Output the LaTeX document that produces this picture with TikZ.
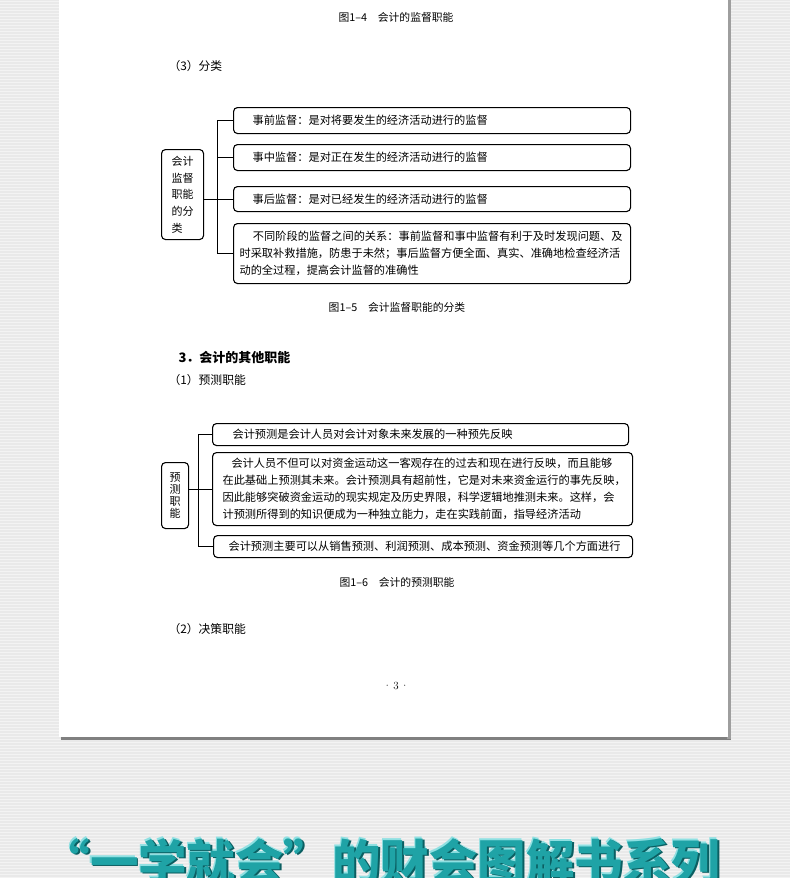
\documentclass[tikz,border=0pt]{standalone}
\usepackage{fontspec}
\newfontfamily\cjk{Noto Sans CJK SC}
\definecolor{bggray}{HTML}{E9E9E9}
\definecolor{bgline}{HTML}{F3F3F3}
\definecolor{teal1}{HTML}{1FA3A6}
\definecolor{teal2}{HTML}{0B5F62}
\definecolor{teal3}{HTML}{8FE0E2}
\tikzset{
  box/.style={draw, line width=1.1pt, rounded corners=4pt, inner ysep=0pt,
    anchor=north west, align=left, font=\cjk\fontsize{11.2}{17}\selectfont},
  sidebox/.style={draw, line width=1.1pt, rounded corners=4pt, inner ysep=0pt,
    anchor=north west, align=left},
  link/.style={line width=1pt},
  figcap/.style={font=\cjk\fontsize{10.8}{12}\selectfont},
  para/.style={anchor=west, font=\cjk\fontsize{11.8}{12}\selectfont},
  stripe/.style={bgline, line width=1pt},
  titletext/.style={anchor=base, font=\cjk\bfseries\fontsize{48.5}{48}\selectfont}
}
\begin{document}
\begin{tikzpicture}[x=1pt,y=-1pt]
\useasboundingbox (0,0) rectangle (790,878);
\clip (0,0) rectangle (790,878);
% background
\fill[bggray] (0,0) rectangle (790,878);
\foreach \yy in {1,4,...,878} \draw[stripe] (0,\yy) -- (790,\yy);
% page
\fill[black!50] (61,736) rectangle (731,739.5);
\fill[black!38] (727,-2) rectangle (731,739);
\fill[white] (59,-2) rectangle (728,737);

% captions and paragraph heads
\node[figcap] (c4) at (396,17) {图1–4\quad 会计的监督职能};
\node[para] (h3) at (165,66) {（3）分类};

% diagram 1
\node[sidebox, minimum width=42, minimum height=90, text width=22, inner xsep=10,
  font=\cjk\fontsize{11}{16.7}\selectfont] (L1) at (161,149) {会计\\监督\\职能\\的分\\类};
\node[box, minimum width=397, minimum height=26, text width=359, inner xsep=19] (a1) at (233,107)
  {事前监督：是对将要发生的经济活动进行的监督};
\node[box, minimum width=397, minimum height=26, text width=359, inner xsep=19] (a2) at (233,144)
  {事中监督：是对正在发生的经济活动进行的监督};
\node[box, minimum width=397, minimum height=25, text width=359, inner xsep=19] (a3) at (233,186)
  {事后监督：是对已经发生的经济活动进行的监督};
\node[box, minimum width=397, minimum height=60, text width=385, inner xsep=6] (a4) at (233,223)
  {\hspace*{1.2em}不同阶段的监督之间的关系：事前监督和事中监督有利于及时发现问题、及\\
   时采取补救措施，防患于未然；事后监督方便全面、真实、准确地检查经济活\\
   动的全过程，提高会计监督的准确性};
\draw[link] (a1.west) -- ++(-16,0) |- (a4.west);
\draw[link] (a2.west) -- ++(-16,0);
\draw[link] (L1.east |- a3.west) -- (a3.west);

\node[figcap] (c5) at (397,307) {图1–5\quad 会计监督职能的分类};
\node[anchor=west, font=\cjk\bfseries\fontsize{13}{14}\selectfont] (h31) at (175,358) {3．会计的其他职能};
\node[para] (h1) at (165,380) {（1）预测职能};

% diagram 2
\node[sidebox, minimum width=27, minimum height=66, text width=11, inner xsep=8,
  font=\cjk\fontsize{11}{12.3}\selectfont] (L2) at (161,462) {预\\测\\职\\能};
\node[box, minimum width=416, minimum height=22, text width=376, inner xsep=20] (b1) at (212,423)
  {会计预测是会计人员对会计对象未来发展的一种预先反映};
\node[box, minimum width=420, minimum height=73, text width=400, inner xsep=10] (b2) at (212,452)
  {\hspace*{0.8em}会计人员不但可以对资金运动这一客观存在的过去和现在进行反映，而且能够\\
   在此基础上预测其未来。会计预测具有超前性，它是对未来资金运行的事先反映，\\
   因此能够突破资金运动的现实规定及历史界限，科学逻辑地推测未来。这样，会\\
   计预测所得到的知识便成为一种独立能力，走在实践前面，指导经济活动};
\node[box, minimum width=419, minimum height=22, text width=389, inner xsep=15] (b3) at (213,535)
  {会计预测主要可以从销售预测、利润预测、成本预测、资金预测等几个方面进行};
\draw[link] (b1.west) -- ++(-14,0) |- (b3.west);
\draw[link] (L2.east |- b2.west) -- (b2.west);

\node[figcap] (c6) at (397,582) {图1–6\quad 会计的预测职能};
\node[para] (h2) at (165,629) {（2）决策职能};
\node[font=\fontsize{11}{12}\selectfont] (pg) at (396,686) {·\,3\,·};

% bottom title
\node[titletext, text=teal3] (tl) at (379.5,878.5) {“一学就会”的财会图解书系列};
\node[titletext, text=teal2] (ts) at (382.5,881.5) {“一学就会”的财会图解书系列};
\node[titletext, text=teal1] (tt) at (381,880) {“一学就会”的财会图解书系列};
\end{tikzpicture}
\end{document}
